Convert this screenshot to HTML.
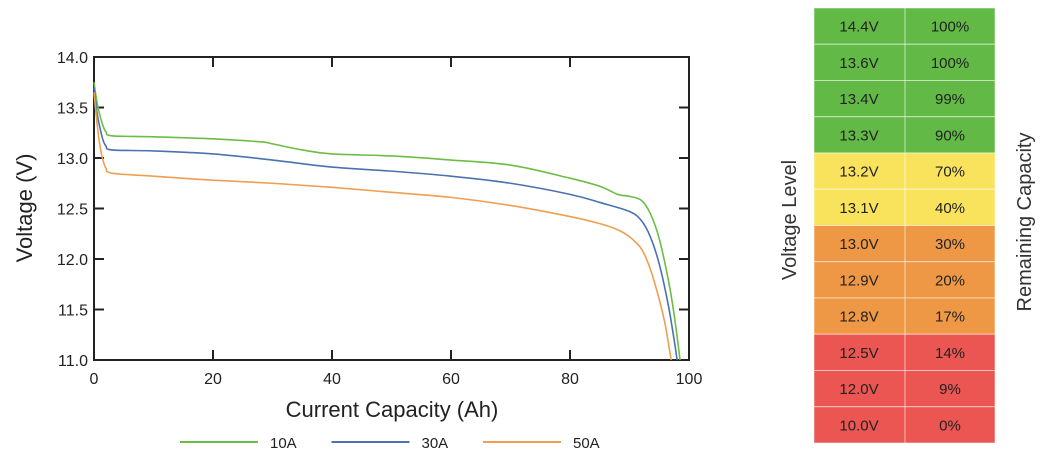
<!DOCTYPE html>
<html><head><meta charset="utf-8"><style>
body{margin:0;width:1047px;height:457px;background:#fff;overflow:hidden;font-family:"Liberation Sans",sans-serif}
svg{position:absolute;left:0;top:0}
</style></head><body>
<svg id="chart" width="1047" height="457"></svg>
<script>
const xTicks=[0,20,40,60,80,100];
const yTicks=[11.0,11.5,12.0,12.5,13.0,13.5,14.0];
const seriesNames=["10A","30A","50A"];
const x10=[0,0.5,1,1.5,2,3,10,20,28,30,35,40,50,60,70,80,85,88,90,92,93.5,95,96.5,97.5,98.5];
const y10=[13.75,13.55,13.42,13.32,13.26,13.22,13.21,13.19,13.16,13.14,13.08,13.04,13.02,12.98,12.93,12.8,12.72,12.64,12.62,12.58,12.45,12.2,11.8,11.45,11.0];
const x30=[0,0.5,1,1.5,2,3,10,20,30,40,50,60,70,80,85,90,92,93.5,95,96.5,97.5,98];
const y30=[13.7,13.45,13.3,13.18,13.12,13.08,13.07,13.04,12.98,12.91,12.87,12.82,12.75,12.64,12.56,12.47,12.38,12.22,11.95,11.55,11.2,11.0];
const x50=[0,0.5,1,1.5,2,3,10,20,30,40,50,60,70,80,85,88,90,92,93.5,95,96,97];
const y50=[13.65,13.35,13.12,12.98,12.9,12.85,12.82,12.78,12.75,12.71,12.66,12.61,12.53,12.42,12.35,12.29,12.22,12.1,11.9,11.6,11.35,11.0];
const colors=["#6cbd45","#4a72b0","#ee9f4f"];
const tableV=["14.4V","13.6V","13.4V","13.3V","13.2V","13.1V","13.0V","12.9V","12.8V","12.5V","12.0V","10.0V"];
const tableC=["100%","100%","99%","90%","70%","40%","30%","20%","17%","14%","9%","0%"];
const L=94,R=689,T=57,B=360;
const sx=v=>L+(v-0)/100*(R-L);
const sy=v=>B-(v-11)/3*(B-T);
const svg=document.getElementById('chart');const NS="http://www.w3.org/2000/svg";
function mk(t,a,txt){const e=document.createElementNS(NS,t);for(const k in a)e.setAttribute(k,a[k]);if(txt!=null)e.textContent=txt;svg.appendChild(e);return e;}
let e;
e=mk('rect',{x:L,y:T,width:R-L,height:B-T,fill:'none',stroke:'#222','stroke-width':2});

xTicks.forEach(t=>{const x=sx(t);
 if(t>0&&t<100){e=mk('line',{x1:x,x2:x,y1:B,y2:B-10,stroke:'#222','stroke-width':2});
 e=mk('line',{x1:x,x2:x,y1:T,y2:T+10,stroke:'#222','stroke-width':2});}
 e=mk('text',{x:x,y:B+24,'text-anchor':'middle','font-size':16,fill:'#222'},String(t));});
yTicks.forEach(t=>{const y=sy(t);
 if(t>11&&t<14){e=mk('line',{x1:L,x2:L+10,y1:y,y2:y,stroke:'#222','stroke-width':2});
 e=mk('line',{x1:R,x2:R-10,y1:y,y2:y,stroke:'#222','stroke-width':2});}
 e=mk('text',{x:L-6,y:y+6,'text-anchor':'end','font-size':16,fill:'#222'},t.toFixed(1));});
e=mk('text',{x:392,y:417,'text-anchor':'middle','font-size':22,fill:'#222'},'Current Capacity (Ah)');
e=mk('text',{x:32,y:208,'text-anchor':'middle','font-size':22,fill:'#222',transform:'rotate(-90 32 208)'},'Voltage (V)');
function path(xs,ys){const p=xs.map((v,i)=>[sx(v),sy(ys[i])]);let d='M'+p[0][0]+','+p[0][1];
 for(let i=0;i<p.length-1;i++){const p0=p[Math.max(0,i-1)],p1=p[i],p2=p[i+1],p3=p[Math.min(p.length-1,i+2)];
 d+=' C'+(p1[0]+(p2[0]-p0[0])/6)+','+(p1[1]+(p2[1]-p0[1])/6)+' '+(p2[0]-(p3[0]-p1[0])/6)+','+(p2[1]-(p3[1]-p1[1])/6)+' '+p2[0]+','+p2[1];}return d;}
const XS=[x10,x30,x50],YS=[y10,y30,y50];
for(let s=0;s<3;s++){e=mk('path',{d:path(XS[s],YS[s]),fill:'none',stroke:colors[s],'stroke-width':1.6,'stroke-linejoin':'round'});

const lx=180+s*151.5;
e=mk('line',{x1:lx,x2:lx+78,y1:442,y2:442,stroke:colors[s],'stroke-width':2});
e=mk('text',{x:lx+90,y:448,'font-size':15,fill:'#222'},seriesNames[s]);}
const tx=814,tw=181,ty=8,rh=36.25,mid=905;
const rowCol=i=>i<4?'#63b946':i<6?'#fae35c':i<9?'#ee9845':'#eb5552';
tableV.forEach((v,i)=>{const y=ty+i*rh;
 e=mk('rect',{x:tx,y:y,width:tw,height:rh,fill:rowCol(i),stroke:'#fff','stroke-opacity':0.5,'stroke-width':1});
 e=mk('text',{x:859,y:y+rh/2+5.5,'text-anchor':'middle','font-size':15,fill:'#222'},v);
 e=mk('text',{x:950,y:y+rh/2+5.5,'text-anchor':'middle','font-size':15,fill:'#222'},tableC[i]);});
e=mk('line',{x1:mid,x2:mid,y1:ty,y2:ty+12*rh,stroke:'#fff','stroke-opacity':0.6});
e=mk('text',{x:796,y:220,'text-anchor':'middle','font-size':20,fill:'#333',transform:'rotate(-90 796 220)'},'Voltage Level');
e=mk('text',{x:1031,y:222,'text-anchor':'middle','font-size':20,fill:'#333',transform:'rotate(-90 1031 222)'},'Remaining Capacity');
</script>
</body></html>
